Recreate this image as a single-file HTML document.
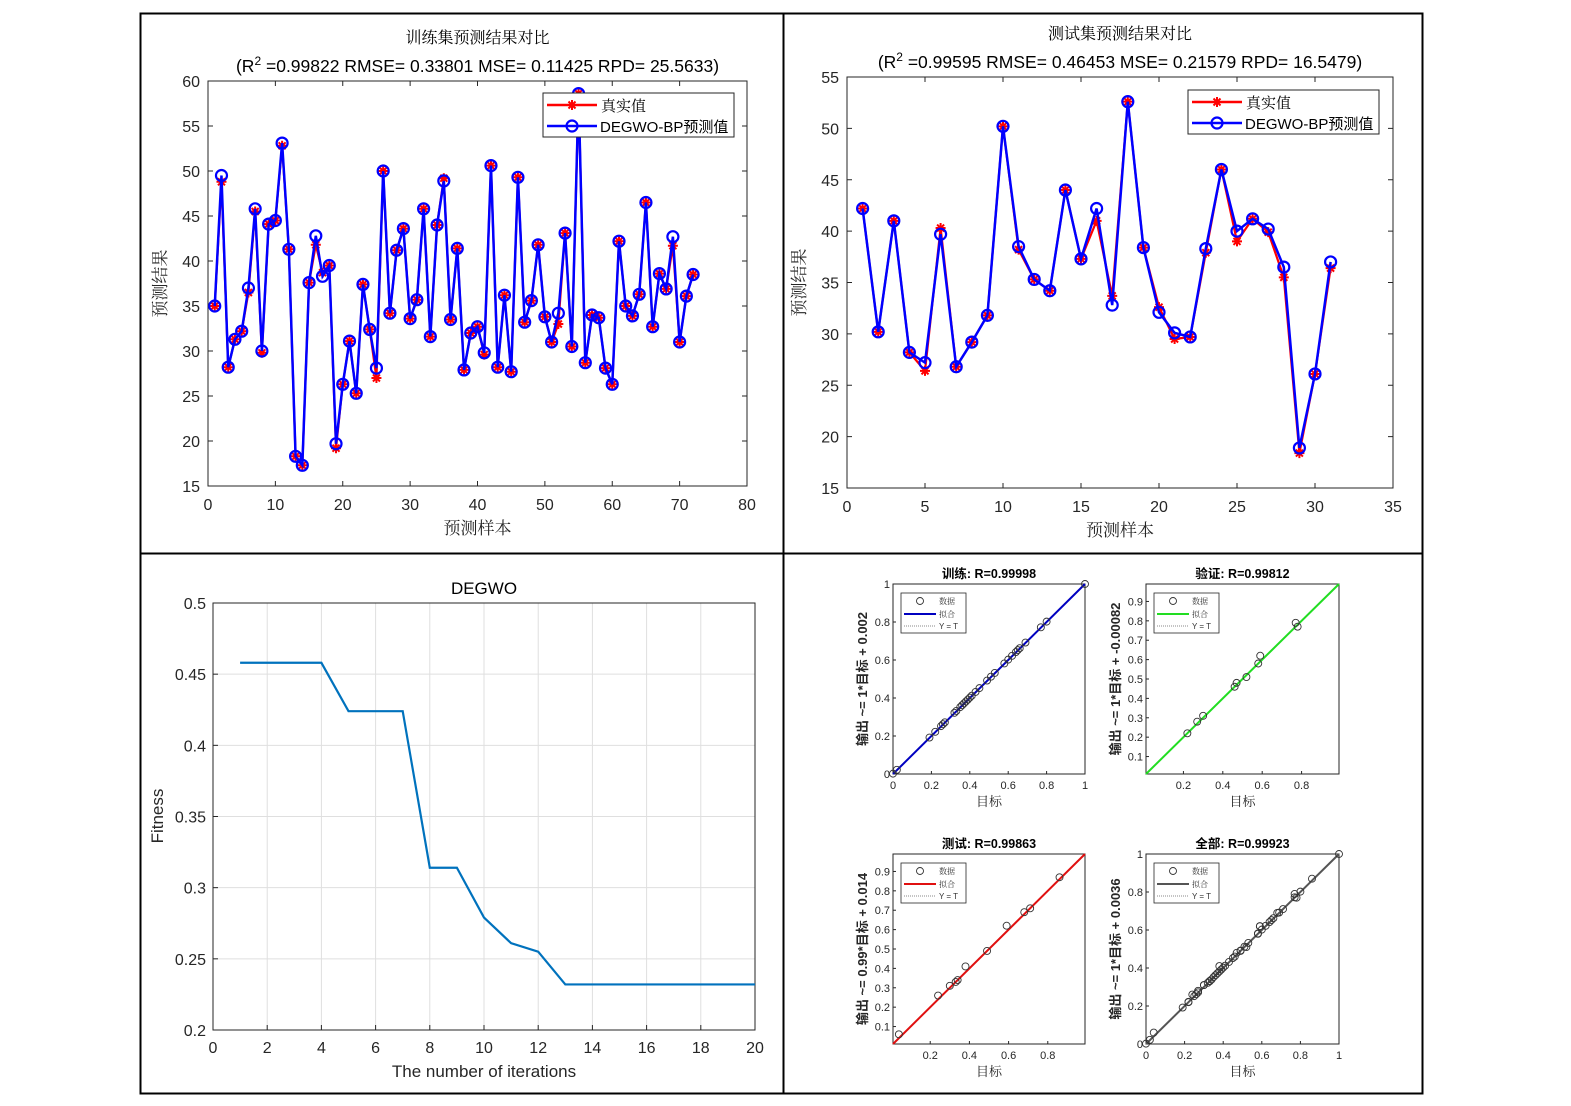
<!DOCTYPE html>
<html><head><meta charset="utf-8">
<style>
html,body{margin:0;padding:0;background:#fff;}
svg{display:block;font-family:"Liberation Sans","Noto Sans CJK SC",sans-serif;}
.cjk{font-family:"Liberation Serif","Noto Serif CJK SC",serif;}
</style></head>
<body>
<svg id="fig" width="1571" height="1106" viewBox="0 0 1571 1106" xmlns="http://www.w3.org/2000/svg">
<rect x="0" y="0" width="1571" height="1106" fill="#fff"/>
<g id="frame">
<rect x="140.5" y="13.5" width="1282" height="1080" fill="none" stroke="#000" stroke-width="2"/>
<line x1="783.5" y1="13" x2="783.5" y2="1094" stroke="#000" stroke-width="2"/>
<line x1="140" y1="553.5" x2="1423" y2="553.5" stroke="#000" stroke-width="2"/>
</g>
<g id="root"></g>
</svg>
<script>
// ---- training comparison data ----
const trainTrue = [35,48.8,28.2,31.3,32.2,36.5,45.5,29.8,44.1,44.5,52.8,41.3,18.3,17.3,37.6,41.8,38.7,39.5,19.2,26.3,31.1,25.3,37.4,32.4,27,50,34.2,41.2,43.6,33.6,35.7,45.8,31.6,44,49.2,33.5,41.4,27.9,32,32.7,29.6,50.6,28.2,36.2,27.7,49.3,33.2,35.6,41.8,33.8,31,33,43.1,30.5,58.6,28.7,34,33.7,28.1,26.3,42.2,35,33.9,36.3,46.5,32.7,38.6,36.9,41.7,31,36.1,38.5];
const trainPred = [35,49.5,28.2,31.3,32.2,37,45.8,30,44.1,44.5,53.1,41.3,18.3,17.3,37.6,42.8,38.3,39.5,19.7,26.3,31.1,25.3,37.4,32.4,28.1,50,34.2,41.2,43.6,33.6,35.7,45.8,31.6,44,48.9,33.5,41.4,27.9,32,32.7,29.8,50.6,28.2,36.2,27.7,49.3,33.2,35.6,41.8,33.8,31,34.2,43.1,30.5,58.6,28.7,34,33.7,28.1,26.3,42.2,35,33.9,36.3,46.5,32.7,38.6,36.9,42.7,31,36.1,38.5];
const trainYTicks = [15,20,25,30,35,40,45,50,55,60];
const trainXTicks = [0,10,20,30,40,50,60,70,80];
// ---- test comparison data ----
const testTrue = [42.2,30.2,41,28.2,26.4,40.3,26.8,29.2,31.8,50.2,38.2,35.3,34.2,44,37.3,41,33.7,52.6,38.4,32.6,29.5,29.7,37.9,46,39,41.2,39.9,35.5,18.4,26.1,36.4];
const testPred = [42.2,30.2,41,28.2,27.2,39.7,26.8,29.2,31.8,50.2,38.5,35.3,34.2,44,37.3,42.2,32.8,52.6,38.4,32.1,30.1,29.7,38.3,46,40,41.2,40.2,36.5,18.9,26.1,37];
const testYTicks = [15,20,25,30,35,40,45,50,55];
const testXTicks = [0,5,10,15,20,25,30,35];
// ---- fitness curve ----
const fitness = [0.458,0.458,0.458,0.458,0.424,0.424,0.424,0.314,0.314,0.279,0.261,0.255,0.232,0.232,0.232,0.232,0.232,0.232,0.232,0.232];
const fitYTicks = [0.2,0.25,0.3,0.35,0.4,0.45,0.5];
const fitXTicks = [0,2,4,6,8,10,12,14,16,18,20];
// ---- regression data ----
const regTrainT = [0,0.02,0.19,0.22,0.25,0.26,0.27,0.32,0.33,0.35,0.36,0.37,0.38,0.39,0.40,0.41,0.43,0.45,0.49,0.51,0.53,0.58,0.60,0.62,0.64,0.65,0.66,0.69,0.77,0.80,1];
const regTrainO = [0.002,0.022,0.192,0.222,0.252,0.262,0.272,0.322,0.332,0.352,0.362,0.372,0.382,0.392,0.402,0.412,0.432,0.452,0.492,0.512,0.532,0.582,0.602,0.622,0.642,0.652,0.662,0.692,0.772,0.802,1];
const regValT = [0.22,0.27,0.30,0.46,0.47,0.52,0.58,0.59,0.77,0.78];
const regValO = [0.22,0.28,0.31,0.46,0.48,0.51,0.58,0.62,0.79,0.77];
const regTestT = [0.04,0.24,0.30,0.33,0.34,0.38,0.49,0.59,0.68,0.71,0.86];
const regTestO = [0.06,0.26,0.31,0.33,0.34,0.41,0.49,0.62,0.69,0.71,0.87];
const regAllT = regTrainT.concat(regValT, regTestT);
const regAllO = regTrainO.concat(regValO, regTestO);

const NS = "http://www.w3.org/2000/svg";
const root = document.getElementById('root');
function mk(tag, attrs, parent, text){
  const e = document.createElementNS(NS, tag);
  for (const k in attrs) e.setAttribute(k, attrs[k]);
  if (text !== undefined) e.textContent = text;
  (parent || root).appendChild(e);
  return e;
}
function scale(d0,d1,r0,r1){ return v => r0 + (v-d0)/(d1-d0)*(r1-r0); }
function star(g,x,y,r){
  const p=mk('path',{d:`M${x-r},${y}h${2*r}M${x},${y-r}v${2*r}M${x-r*0.7},${y-r*0.7}l${1.4*r},${1.4*r}M${x-r*0.7},${y+r*0.7}l${1.4*r},${-1.4*r}`,stroke:'#f00','stroke-width':2,fill:'none'},g);
  return p;
}

// ========== comparison chart ==========
function compChart(g, box, xd, yd, xt, yt, tr, pr, title, stats, lg){
  const X = scale(xd[0],xd[1],box.x0,box.x1), Y = scale(yd[0],yd[1],box.y1,box.y0);
  const ax = mk('rect',{x:box.x0,y:box.y0,width:box.x1-box.x0,height:box.y1-box.y0,fill:'none',stroke:'#262626','stroke-width':1},g);
   
  xt.forEach(v=>{
    const x=X(v);
    mk('line',{x1:x,y1:box.y1,x2:x,y2:box.y1-5,stroke:'#262626'},g);
    mk('line',{x1:x,y1:box.y0,x2:x,y2:box.y0+5,stroke:'#262626'},g);
    const t=mk('text',{x:x,y:box.y1+24,'text-anchor':'middle','font-size':16,fill:'#262626'},g,String(v));
     
  });
  yt.forEach(v=>{
    const y=Y(v);
    mk('line',{x1:box.x0,y1:y,x2:box.x0+5,y2:y,stroke:'#262626'},g);
    mk('line',{x1:box.x1,y1:y,x2:box.x1-5,y2:y,stroke:'#262626'},g);
    const t=mk('text',{x:box.x0-8,y:y+6,'text-anchor':'end','font-size':16,fill:'#262626'},g,String(v));
     
  });
  const cx=(box.x0+box.x1)/2;
  const t1=mk('text',{x:cx,y:box.y0-38,'text-anchor':'middle','font-size':16,class:'cjk',fill:'#000'},g,title);
   
  const t2=mk('text',{x:cx,y:box.y0-9,'text-anchor':'middle','font-size':17.5,fill:'#000'},g);
   
  mk('tspan',{},t2,'(R');
  mk('tspan',{dy:-7,'font-size':12},t2,'2');
  mk('tspan',{dy:7},t2,' =' + stats);
  const xl=mk('text',{x:cx,y:box.y1+48,'text-anchor':'middle','font-size':17,class:'cjk',fill:'#262626'},g,'预测样本');
   
  const ym=(box.y0+box.y1)/2;
  const yl=mk('text',{x:box.x0-42,y:ym,'text-anchor':'middle','font-size':17,class:'cjk',fill:'#262626',transform:`rotate(-90 ${box.x0-42} ${ym})`},g,'预测结果');
   
  const ptsT = tr.map((v,i)=>X(i+1)+','+Y(v)).join(' ');
  const lt=mk('polyline',{points:ptsT,fill:'none',stroke:'#f00','stroke-width':2.2},g);
   
  tr.forEach((v,i)=>{
    const s=star(g,X(i+1),Y(v),5);
     
  });
  const ptsP = pr.map((v,i)=>X(i+1)+','+Y(v)).join(' ');
  const lp=mk('polyline',{points:ptsP,fill:'none',stroke:'#0000ff','stroke-width':2.5},g);
   
  pr.forEach((v,i)=>{
    const c=mk('circle',{cx:X(i+1),cy:Y(v),r:5.5,fill:'none',stroke:'#0000ff','stroke-width':2.2},g);
     
  });
  const L=mk('g',{},g);  
  mk('rect',{x:lg.x,y:lg.y,width:191,height:44,fill:'#fff',stroke:'#262626'},L);
  const e1=mk('g',{},L);  
  mk('line',{x1:lg.x+4,y1:lg.y+12,x2:lg.x+54,y2:lg.y+12,stroke:'#f00','stroke-width':2.5},e1);
  star(e1,lg.x+29,lg.y+12,5);
  mk('text',{x:lg.x+58,y:lg.y+18,'font-size':15,class:'cjk',fill:'#000'},e1,'真实值');
  const e2=mk('g',{},L);  
  mk('line',{x1:lg.x+4,y1:lg.y+33,x2:lg.x+54,y2:lg.y+33,stroke:'#00f','stroke-width':2.5},e2);
  mk('circle',{cx:lg.x+29,cy:lg.y+33,r:5.5,fill:'none',stroke:'#00f','stroke-width':2.2},e2);
  mk('text',{x:lg.x+57,y:lg.y+39,'font-size':15,fill:'#000'},e2,'DEGWO-BP预测值');
}
const g1=mk('g',{});  
compChart(g1,{x0:208,x1:747,y0:81,y1:486},[0,80],[15,60],trainXTicks,trainYTicks,trainTrue,trainPred,'训练集预测结果对比','0.99822 RMSE= 0.33801 MSE= 0.11425 RPD= 25.5633)',{x:543,y:93});
const g2=mk('g',{});  
compChart(g2,{x0:847,x1:1393,y0:77,y1:488},[0,35],[15,55],testXTicks,testYTicks,testTrue,testPred,'测试集预测结果对比','0.99595 RMSE= 0.46453 MSE= 0.21579 RPD= 16.5479)',{x:1188,y:90});

// ========== fitness chart ==========
(function(){
  const g=mk('g',{});  
  const b={x0:213,x1:755,y0:603,y1:1030};
  const X=scale(0,20,b.x0,b.x1), Y=scale(0.2,0.5,b.y1,b.y0);
  fitXTicks.forEach(v=>{
    const x=X(v);
    const gl=mk('line',{x1:x,y1:b.y0,x2:x,y2:b.y1,stroke:'#dfdfdf'},g);
     
    mk('line',{x1:x,y1:b.y1,x2:x,y2:b.y1-5,stroke:'#262626'},g);
    const t=mk('text',{x:x,y:b.y1+23,'text-anchor':'middle','font-size':16,fill:'#262626'},g,String(v));
     
  });
  fitYTicks.forEach(v=>{
    const y=Y(v);
    const gl=mk('line',{x1:b.x0,y1:y,x2:b.x1,y2:y,stroke:'#dfdfdf'},g);
     
    mk('line',{x1:b.x0,y1:y,x2:b.x0+5,y2:y,stroke:'#262626'},g);
    const t=mk('text',{x:b.x0-7,y:y+6,'text-anchor':'end','font-size':16,fill:'#262626'},g,String(v));
     
  });
  const a=mk('rect',{x:b.x0,y:b.y0,width:b.x1-b.x0,height:b.y1-b.y0,fill:'none',stroke:'#262626'},g);
   
  const l=mk('polyline',{points:fitness.map((v,i)=>X(i+1)+','+Y(v)).join(' '),fill:'none',stroke:'#0072BD','stroke-width':2.2},g);
   
  const t=mk('text',{x:484,y:594,'text-anchor':'middle','font-size':17,fill:'#000'},g,'DEGWO');
   
  const xl=mk('text',{x:484,y:1077,'text-anchor':'middle','font-size':17,fill:'#262626'},g,'The number of iterations');
   
  const yl=mk('text',{x:163,y:816,'text-anchor':'middle','font-size':17,fill:'#262626',transform:'rotate(-90 163 816)'},g,'Fitness');
   
})();

// ========== regression panels ==========
function regPanel(name,b,dom,ticks,xticks,T,O,color,title,ylab){
  const g=mk('g',{});  
  const X=scale(dom[0],dom[1],b.x0,b.x1), Y=scale(dom[0],dom[1],b.y1,b.y0);
  const a=mk('rect',{x:b.x0,y:b.y0,width:b.x1-b.x0,height:b.y1-b.y0,fill:'#fff',stroke:'#262626'},g);
   
  xticks.forEach(v=>{
    const x=X(v);
    mk('line',{x1:x,y1:b.y1,x2:x,y2:b.y1-3,stroke:'#262626'},g);
    const t=mk('text',{x:x,y:b.y1+15,'text-anchor':'middle','font-size':11,fill:'#262626'},g,String(v));
     
  });
  ticks.forEach(v=>{
    const y=Y(v);
    mk('line',{x1:b.x0,y1:y,x2:b.x0+3,y2:y,stroke:'#262626'},g);
    const t=mk('text',{x:b.x0-3,y:y+4,'text-anchor':'end','font-size':11,fill:'#262626'},g,String(v));
     
  });
  const d=mk('line',{x1:X(dom[0]),y1:Y(dom[0]),x2:X(dom[1]),y2:Y(dom[1]),stroke:'#888','stroke-dasharray':'1 1'},g);
   
  const f=mk('line',{x1:X(dom[0]),y1:Y(dom[0]),x2:X(dom[1]),y2:Y(dom[1]),stroke:color,'stroke-width':2},g);
   
  T.forEach((v,i)=>{
    const c=mk('circle',{cx:X(v),cy:Y(O[i]),r:3.5,fill:'none',stroke:'#333','stroke-width':0.9},g);
     
  });
  const L=mk('g',{},g);  
  const lx=b.x0+8, ly=b.y0+9;
  mk('rect',{x:lx,y:ly,width:65,height:40,fill:'#fff',stroke:'#262626','stroke-width':0.8},L);
  mk('circle',{cx:lx+19,cy:ly+8,r:3.5,fill:'none',stroke:'#333','stroke-width':0.9},L);
  mk('text',{x:lx+38,y:ly+11,'font-size':8,class:'cjk',fill:'#333'},L,'数据');
  mk('line',{x1:lx+3,y1:ly+21,x2:lx+35,y2:ly+21,stroke:color,'stroke-width':2},L);
  mk('text',{x:lx+38,y:ly+24,'font-size':8,class:'cjk',fill:'#333'},L,'拟合');
  mk('line',{x1:lx+3,y1:ly+33,x2:lx+35,y2:ly+33,stroke:'#888','stroke-dasharray':'1 1'},L);
  mk('text',{x:lx+38,y:ly+36,'font-size':8,fill:'#333'},L,'Y = T');
  const cx=(b.x0+b.x1)/2;
  const t=mk('text',{x:cx,y:b.y0-6,'text-anchor':'middle','font-size':12.5,'font-weight':'bold',fill:'#000'},g,title);
   
  const xl=mk('text',{x:cx,y:b.y1+32,'text-anchor':'middle','font-size':13,class:'cjk',fill:'#262626'},g,'目标');
   
  const ym=(b.y0+b.y1)/2, yx=b.x0-26;
  const yl=mk('text',{x:yx,y:ym,'text-anchor':'middle','font-size':13,'font-weight':'bold',fill:'#262626',transform:`rotate(-90 ${yx} ${ym})`},g,ylab);
   
}
const full=[0,0.2,0.4,0.6,0.8,1], part=[0.1,0.2,0.3,0.4,0.5,0.6,0.7,0.8,0.9], partX=[0.2,0.4,0.6,0.8];
regPanel('regression-train',{x0:893,x1:1085,y0:584,y1:774},[0,1],full,full,regTrainT,regTrainO,'#0000c0','训练: R=0.99998','输出 ~= 1*目标 + 0.002');
regPanel('regression-validation',{x0:1146,x1:1339,y0:584,y1:774},[0.01,0.99],part,partX,regValT,regValO,'#22dd22','验证: R=0.99812','输出 ~= 1*目标 + -0.00082');
regPanel('regression-test',{x0:893,x1:1085,y0:854,y1:1044},[0.01,0.99],part,partX,regTestT,regTestO,'#e01010','测试: R=0.99863','输出 ~= 0.99*目标 + 0.014');
regPanel('regression-all',{x0:1146,x1:1339,y0:854,y1:1044},[0,1],full,full,regAllT,regAllO,'#555','全部: R=0.99923','输出 ~= 1*目标 + 0.0036');
</script>
</body></html>
